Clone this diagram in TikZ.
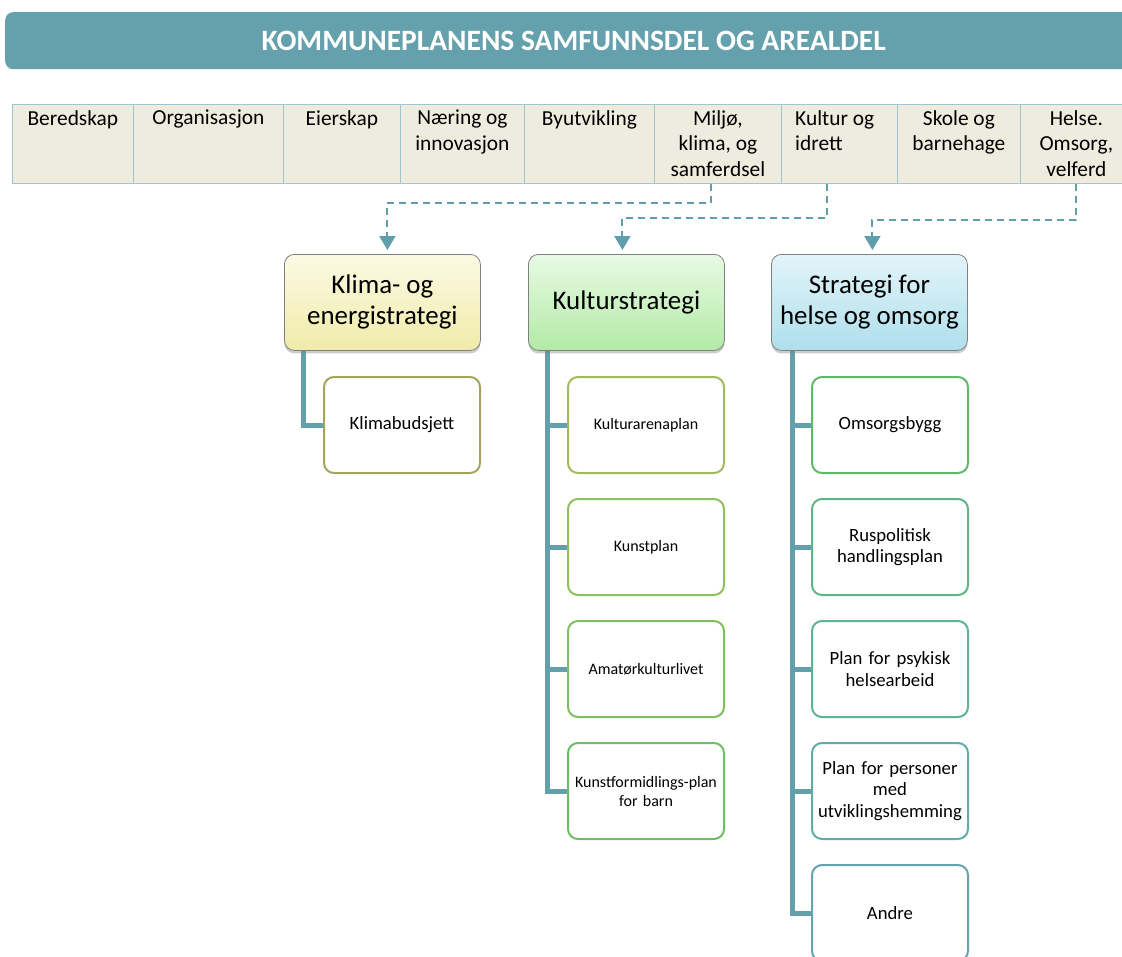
\documentclass[tikz,border=0pt]{standalone}
\usepackage{fontspec}
\setmainfont{Carlito}
\usetikzlibrary{arrows.meta,shadows}
\definecolor{barcol}{HTML}{65A1AC}
\definecolor{cellfill}{HTML}{EEECDF}
\definecolor{cellborder}{HTML}{9FC6CE}
\definecolor{dashcol}{HTML}{5F9EAA}
\definecolor{trunkcol}{HTML}{64A0AB}
\definecolor{stratborder}{HTML}{808080}
\definecolor{ckb}{HTML}{A6A45A}
\definecolor{ck1}{HTML}{A2BA5C}
\definecolor{ck2}{HTML}{8FC05C}
\definecolor{ck3}{HTML}{7EC05E}
\definecolor{ck4}{HTML}{6CBE64}
\definecolor{ch1}{HTML}{5DB96B}
\definecolor{ch2}{HTML}{5EB585}
\definecolor{ch3}{HTML}{5CB398}
\definecolor{ch4}{HTML}{5FAEA6}
\definecolor{ch5}{HTML}{65A3AE}
\tikzset{
  cell/.style={draw=cellborder, fill=cellfill, line width=0.8pt, minimum height=79pt, anchor=north west, inner sep=0pt},
  celltext/.style={anchor=north, align=center, inner sep=6pt, font=\fontsize{21.4}{25.5}\selectfont},
  dashconn/.style={draw=dashcol, line width=2pt, dash pattern=on 7pt off 5pt, -{Triangle[length=14pt,width=16pt]}},
  trunk/.style={draw=trunkcol, line width=5pt},
  strat/.style={draw=stratborder, line width=0.8pt, rounded corners=10pt, anchor=north west, minimum width=196pt, minimum height=96pt, align=center, font=\fontsize{26.9}{31}\selectfont, drop shadow={opacity=0.4, shadow xshift=0pt, shadow yshift=-3pt}},
  child/.style={draw, fill=white, line width=2pt, rounded corners=10pt, anchor=north west, minimum width=156pt, minimum height=96pt, text width=150pt, inner sep=3pt, align=center, font=\fontsize{18.7}{21.6}\selectfont},
  childs/.style={child, font=\fontsize{16}{19}\selectfont}
}
\begin{document}
\begin{tikzpicture}[x=1pt,y=-1pt]
\useasboundingbox (0,0) rectangle (1122,956);
% title bar
\node[fill=barcol, rounded corners=8pt, anchor=north west, minimum width=1140pt, minimum height=57pt, inner sep=0pt,
      text=white, font=\bfseries\fontsize{29.5}{34}\selectfont] (title) at (5,12) {\hspace*{-3pt}KOMMUNEPLANENS SAMFUNNSDEL OG AREALDEL};
% table cells
\node[cell, minimum width=121pt] (c1) at (12,104) {};
\node[cell, minimum width=150pt] (c2) at (133,104) {};
\node[cell, minimum width=117pt] (c3) at (283,104) {};
\node[cell, minimum width=124pt] (c4) at (400,104) {};
\node[cell, minimum width=130pt] (c5) at (524,104) {};
\node[cell, minimum width=127pt] (c6) at (654,104) {};
\node[cell, minimum width=116pt] (c7) at (781,104) {};
\node[cell, minimum width=123pt] (c8) at (897,104) {};
\node[cell, minimum width=112pt] (c9) at (1020,104) {};
\node[celltext] (t1) at (c1.north) {Beredskap};
\node[celltext] (t2) at (c2.north) {Organisasjon};
\node[celltext] (t3) at (c3.north) {Eierskap};
\node[celltext] (t4) at (c4.north) {Næring og\\innovasjon};
\node[celltext] (t5) at (c5.north) {Byutvikling};
\node[celltext] (t6) at (c6.north) {Miljø,\\klima, og\\samferdsel};
\node[celltext, anchor=north west, align=left] (t7) at ([xshift=8pt]c7.north west) {Kultur og\\idrett};
\node[celltext] (t8) at (c8.north) {Skole og\\barnehage};
\node[celltext] (t9) at (c9.north) {Helse.\\Omsorg,\\velferd};
% trunk start points
\coordinate (kbtop) at (303,350);
\coordinate (kstop) at (547,350);
\coordinate (hstop) at (792,350);
% children
\node[child, draw=ckb] (kb) at (323,376) {Klimabudsjett};
\node[childs, draw=ck1] (k1) at (567,376) {Kulturarenaplan};
\node[childs, draw=ck2] (k2) at (567,498) {Kunstplan};
\node[childs, draw=ck3] (k3) at (567,620) {Amatørkulturlivet};
\node[childs, draw=ck4] (k4) at (567,742) {Kunstformidlings-plan\\for barn};
\node[child, draw=ch1] (h1) at (811,376) {Omsorgsbygg};
\node[child, draw=ch2] (h2) at (811,498) {Ruspolitisk\\handlingsplan};
\node[child, draw=ch3] (h3) at (811,620) {Plan for psykisk\\helsearbeid};
\node[child, draw=ch4] (h4) at (811,742) {Plan for personer\\med\\utviklingshemming};
\node[child, draw=ch5] (h5) at (811,864) {Andre};
\draw[trunk] (kbtop) |- (kb.west);
\foreach \n in {k1,k2,k3,k4} \draw[trunk] (kstop) |- (\n.west);
\foreach \n in {h1,h2,h3,h4,h5} \draw[trunk] (hstop) |- (\n.west);
% strategy boxes
\node[strat, top color={rgb,255:red,252;green,250;blue,228}, bottom color={rgb,255:red,240;green,235;blue,170}] (ke) at (284,254) {Klima- og\\energistrategi};
\node[strat, top color={rgb,255:red,232;green,249;blue,229}, bottom color={rgb,255:red,178;green,235;blue,165}] (ks) at (528,254) {Kulturstrategi};
\node[strat, top color={rgb,255:red,227;green,244;blue,249}, bottom color={rgb,255:red,174;green,223;blue,236}] (hs) at (771,254) {Strategi for\\helse og omsorg};
% dashed connectors
\draw[dashconn] ([xshift=-6.5pt]c6.south) -- ++(0,19) -| ([xshift=5pt,yshift=4pt]ke.north);
\draw[dashconn] ([xshift=-12pt]c7.south) -- ++(0,34) -| ([xshift=-4pt,yshift=4pt]ks.north);
\draw[dashconn] (c9.south) -- ++(0,36) -| ([xshift=3pt,yshift=4pt]hs.north);
\end{tikzpicture}
\end{document}
